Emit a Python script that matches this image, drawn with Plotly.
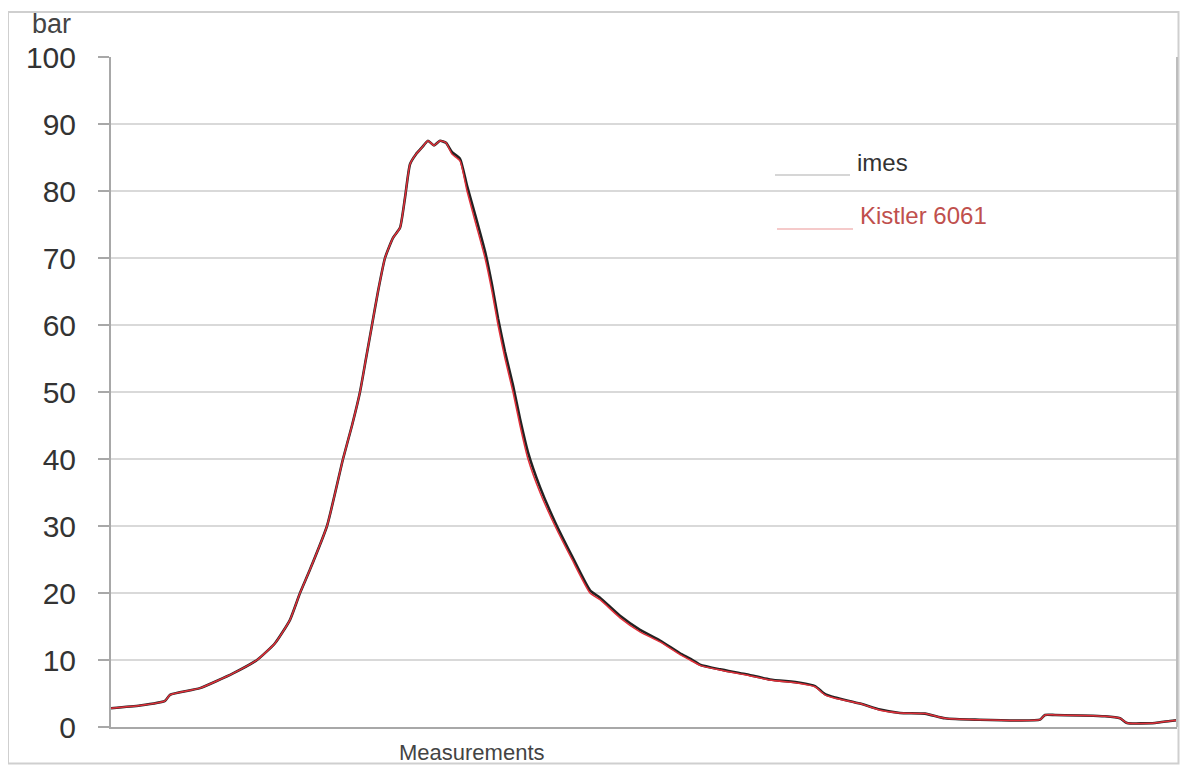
import plotly.graph_objects as go

# Measurement index (samples) and pressure values in bar
samples = [0, 29, 54, 59, 89, 122, 146, 164, 179, 189, 199, 216, 232, 241, 249, 255,
           261, 267, 274, 282, 289, 294, 299, 305, 311, 317, 323, 329, 335, 341, 349,
           356, 365, 374, 381, 387, 394, 402, 409, 417, 429, 444, 461, 479, 489, 509,
           529, 549, 569, 579, 589, 609, 634, 659, 689, 704, 714, 724, 749, 769, 789,
           814, 834, 864, 929, 934, 944, 994, 1009, 1016, 1044, 1059, 1066]

kistler = [2.8, 3.2, 3.9, 4.8, 5.8, 8.0, 10.0, 12.5, 16.0, 20.0, 23.5, 30.0, 40.0, 45.0,
           50.0, 55.0, 60.0, 65.0, 70.0, 73.0, 74.5, 79.0, 84.0, 85.5, 86.5, 87.5, 86.8,
           87.5, 87.2, 85.5, 84.5, 80.0, 75.0, 70.0, 65.0, 60.0, 55.0, 50.0, 45.0, 40.0,
           35.0, 30.0, 25.0, 20.0, 19.0, 16.3, 14.2, 12.7, 10.8, 10.0, 9.2, 8.5, 7.8,
           7.0, 6.5, 6.0, 4.8, 4.3, 3.5, 2.5, 2.1, 2.0, 1.3, 1.1, 1.1, 1.8, 1.8, 1.6,
           1.3, 0.6, 0.6, 0.9, 1.0]

imes = [2.8, 3.2, 3.9, 4.8, 5.8, 8.0, 10.0, 12.5, 16.0, 20.0, 23.5, 30.0, 40.0, 45.0,
        50.0, 55.0, 60.0, 65.0, 70.0, 73.0, 74.5, 79.0, 84.0, 85.5, 86.5, 87.5, 86.8,
        87.5, 87.2, 85.8, 84.8, 80.8, 76.0, 71.0, 66.0, 61.0, 56.0, 51.0, 46.0, 41.0,
        35.8, 30.6, 25.5, 20.4, 19.3, 16.6, 14.5, 12.9, 11.0, 10.2, 9.3, 8.6, 7.9,
        7.1, 6.6, 6.1, 4.9, 4.4, 3.5, 2.6, 2.1, 2.0, 1.3, 1.1, 1.1, 1.8, 1.8, 1.6,
        1.3, 0.6, 0.6, 0.9, 1.0]

y_ticks = [0, 10, 20, 30, 40, 50, 60, 70, 80, 90, 100]

FONT = "Liberation Sans, Arial, sans-serif"

fig = go.Figure()
fig.add_trace(go.Scatter(x=samples, y=imes, mode="lines", name="imes",
                         line=dict(color="#222222", width=2.6, shape="spline", smoothing=0.5)))
fig.add_trace(go.Scatter(x=samples, y=kistler, mode="lines", name="Kistler 6061",
                         line=dict(color="#e0303a", width=1.5, shape="spline", smoothing=0.5)))

OFF = 8  # page body margin
W, H = 1172, 757
# plot area in page pixels: left 111, right 1177, top 57, bottom 727
L = 111 - OFF
T = 57 - OFF
R = W - (1177 - OFF)
B = H - (727 - OFF)
pw, ph = W - L - R, H - T - B


def px(x):
    return (x - OFF - L) / pw


def py(y):
    return (H - B - (y - OFF)) / ph


shapes = [
    # outer frame
    dict(type="rect", xref="paper", yref="paper", x0=px(8), x1=px(1178.5), y0=py(763.5), y1=py(12),
         line=dict(color="#cfcfcf", width=2), layer="below"),
    # plot area right border
    dict(type="line", xref="paper", yref="paper", x0=1, x1=1, y0=0, y1=1,
         line=dict(color="#bdbdbd", width=2)),
    # legend lines
    dict(type="line", xref="paper", yref="paper", x0=px(775), x1=px(850), y0=py(175), y1=py(175),
         line=dict(color="#c8c8c8", width=1.5)),
    dict(type="line", xref="paper", yref="paper", x0=px(777), x1=px(853), y0=py(229), y1=py(229),
         line=dict(color="#f2b8b8", width=1.5)),
]

annotations = [
    dict(text="bar", xref="paper", yref="paper", x=px(30), y=py(24), xanchor="left", yanchor="middle",
         showarrow=False, font=dict(family=FONT, size=27, color="#444444")),
    dict(text="Measurements", xref="paper", yref="paper", x=px(472), y=py(752), xanchor="center",
         yanchor="middle", showarrow=False, font=dict(family=FONT, size=22, color="#444444")),
    dict(text="imes", xref="paper", yref="paper", x=px(855), y=py(163), xanchor="left", yanchor="middle",
         showarrow=False, font=dict(family=FONT, size=24, color="#333333")),
    dict(text="Kistler 6061", xref="paper", yref="paper", x=px(858), y=py(215), xanchor="left",
         yanchor="middle", showarrow=False, font=dict(family=FONT, size=24, color="#c0504d")),
]

fig.update_layout(
    width=W, height=H,
    margin=dict(l=L, r=R, t=T, b=B),
    paper_bgcolor="white", plot_bgcolor="white",
    showlegend=False,
    shapes=shapes, annotations=annotations,
    xaxis=dict(range=[0, 1066], showgrid=False, showticklabels=False, ticks="",
               showline=True, linecolor="#a8a8a8", linewidth=2, zeroline=False, fixedrange=True),
    yaxis=dict(range=[0, 100], tickvals=y_ticks, showgrid=True, gridcolor="#d9d9d9", gridwidth=2,
               showline=True, linecolor="#a8a8a8", linewidth=2, zeroline=False,
               ticks="outside", ticklen=11, tickcolor="#a8a8a8", tickwidth=1.5,
               ticklabelstandoff=16,
               tickfont=dict(family=FONT, size=30, color="#333333")),
)

fig.write_html("out.html")
